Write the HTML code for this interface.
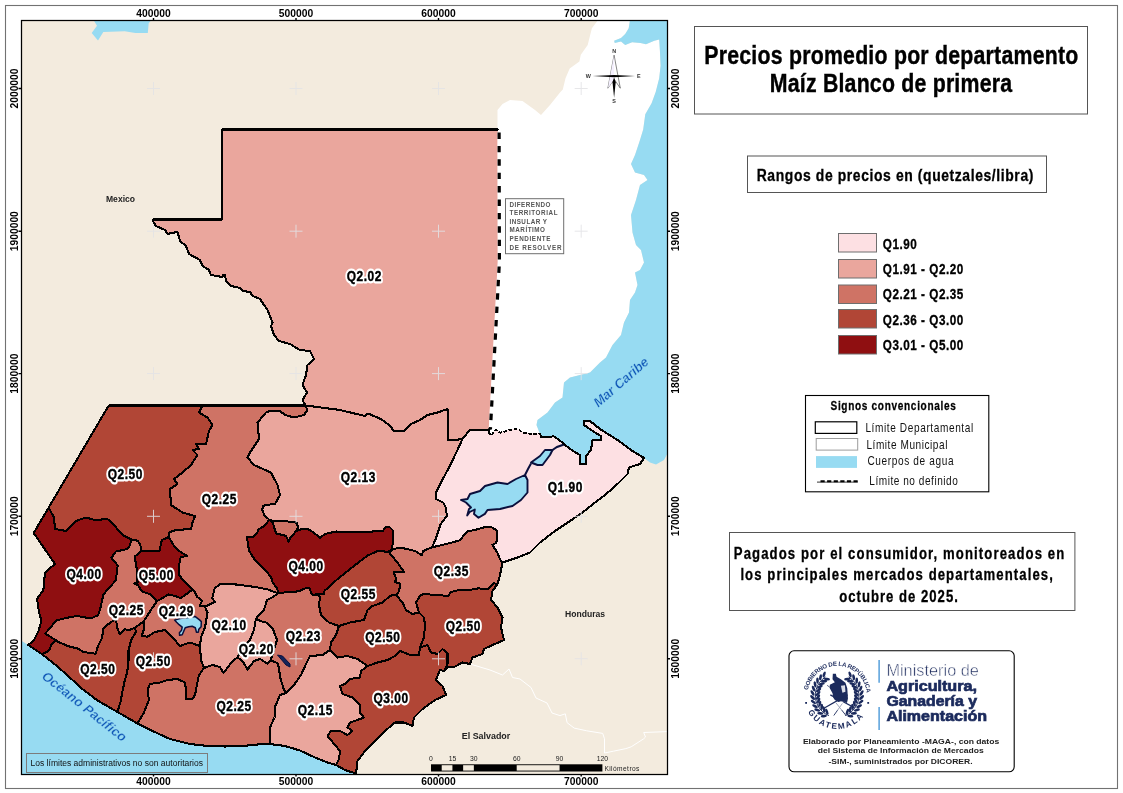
<!DOCTYPE html>
<html lang="es"><head><meta charset="utf-8"><title>Precios promedio por departamento - Maíz Blanco de primera</title>
<style>html,body{margin:0;padding:0;background:#fff}svg{display:block}text{font-family:"Liberation Sans",Arial,sans-serif}.lb{font-weight:bold;font-size:14px;fill:#000;stroke:#fff;stroke-width:3.4px;stroke-linejoin:round;paint-order:stroke fill}.ax{font-weight:bold;font-size:10.3px;fill:#000}.dep{stroke:#000;stroke-width:2.05;stroke-linejoin:round}.nb{font-weight:bold;fill:#000}</style></head><body>
<svg width="1123" height="793" viewBox="0 0 1123 793">
<rect width="1123" height="793" fill="#fff"/>
<rect x="5.5" y="5.5" width="1112" height="783" fill="none" stroke="#727272" stroke-width="1.1"/>
<defs><clipPath id="mc"><rect x="21" y="20" width="647" height="755"/></clipPath></defs>
<g clip-path="url(#mc)">
<rect x="21" y="20" width="647" height="755" fill="#f3ebde"/>
<polygon points="497.5,129.5 497.5,110 502.5,104 510,100 522.5,101 535,110 541,115 550,105 560,92.5 562.8,89.4 565.5,78.3 569.7,68.6 579.4,61.6 580.8,54.7 587.7,45 589.8,36.6 591.9,28.3 598.1,20 630,20 628.7,28.3 625.2,33.9 621,38 614.1,40.8 614.8,42.9 621,41.5 625.2,45 632.1,42.2 640.5,42.9 646,44.3 654.3,40.8 659.2,39.4 659.9,50.5 660.6,65.8 659.2,78.3 655.7,92.1 651.6,103.2 645.3,114.3 643.2,129.6 640,140 635,155 631,164 635,172.5 644,175 647.5,180 640,185 636,200 631,215 632.5,232.5 636,245 641,250 644,262.5 640,270 635,272.5 637.5,285 635,292.5 630,300 629,312.5 624,322.5 621,335 612.5,345 606,357.5 600,362.5 590,372.5 580,375 570,377.5 564,382.5 562.5,397.5 555,402.5 547.5,412.5 537.5,420 536.5,425 539.7,433.3 537.9,434 529.9,433.7 522.7,432.8 520,430.6 515.6,429.2 509.4,430.1 500.5,432.8 496,429.7 491.6,435 488.9,432.8 488.8,429.5 497.8,262" fill="#fff"/>
<polygon points="630,20 628.7,28.3 625.2,33.9 621,38 614.1,40.8 614.8,42.9 621,41.5 625.2,45 632.1,42.2 640.5,42.9 646,44.3 654.3,40.8 659.2,39.4 659.9,50.5 660.6,65.8 659.2,78.3 655.7,92.1 651.6,103.2 645.3,114.3 643.2,129.6 640,140 635,155 631,164 635,172.5 644,175 647.5,180 640,185 636,200 631,215 632.5,232.5 636,245 641,250 644,262.5 640,270 635,272.5 637.5,285 635,292.5 630,300 629,312.5 624,322.5 621,335 612.5,345 606,357.5 600,362.5 590,372.5 580,375 570,377.5 564,382.5 562.5,397.5 555,402.5 547.5,412.5 537.5,420 536.5,425 539.7,433.3 541.4,437.3 546.8,436.8 553.9,436.4 560.1,440.8 564,444 570,449 580,455 580,464 586,464 586,456 591,450 592.5,440 601,440 601,436 595,432.5 584,425 584,421 590,421 600,429 617.5,440 632.5,451 644,458 650,462.5 656,464.5 664,460 668,452.5 668,20" fill="#97dbf2"/>
<polygon points="21,640.5 28.2,644.9 42.1,654.3 56.6,665.7 69.2,677 83.1,689.6 97.5,700.5 117.5,712 137.5,723.5 152.5,731 170,739 190,744 207.5,746 225,746.5 242.5,746 257.5,744.5 270,744 285,746 300,750.5 315,757.5 327.5,762.5 336,765 345,770 356,773.5 356,775 21,775" fill="#97dbf2"/>
<polygon points="93.5,20 97,25.8 91.7,33 98,40.6 103.3,32 124.7,31.2 135.4,33 147.8,33 148.7,23.2 151.4,20" fill="#97dbf2"/>
<polyline points="470,664 490,670 502.5,675 509,669 512.5,677.5 520,679 531,687.5 536,698 547,703 552,713 560,715.6 565.3,713.8 567.1,722.7 574.2,728.1 586.7,730.8 602.7,733.4 604.5,738.8 604.5,753 613.4,751.2 625.9,748.6 631.2,746.8 643.7,738.8 645.5,737 643.7,732.5 667,731.6" fill="none" stroke="#fff" stroke-width="1"/>
<polygon points="222,129.5 497.5,129.5 497.8,262 488.8,429.5 489.5,429.5 470,430 464,437 462.5,439 455,440 448,440 447.5,409 437.5,412.5 427.5,415 420,420 411,424 405,430.5 394,431 390,426 384,421 377.5,417.5 368,413.5 365,416 340,410 305.5,405.5 302.5,400 307,392.5 302.5,385 306,375 307.5,365 314,359 310,351 300,350 290,344 279,341 274,335 271,326 272.5,322.5 267.5,310 260,299 252.5,296 250,292 242.5,291 240,288 231,286 226,281 225,275 223,274.5 222.5,277 211,275 209,270 202.5,266 200,260 189,254 186,246 180,241 177.5,232 172,233 167.5,234 165,230 156,226 153,221 153,219.5 222,219.5" fill="#eaa69d" stroke="#eaa69d" stroke-width="0.6"/>
<polygon points="108.7,405.5 202.5,405.5 199,412.5 207.5,417.5 212.5,425 209,431 206,444 196,444 199,449 192.5,450 197.5,455 191,465 182.5,472.5 174,479 177.5,484 170,489 171,505 182.5,512.5 195,516 192.5,522.5 191,529 175.7,530 168.7,532.6 168.7,537 161.8,540.1 159.3,551.5 141.6,551 140.4,545.2 137.8,540.8 131.5,539.5 122.7,535.1 113.9,525 107.5,519 95,520 86,517.5 76,521 66,531 55,529 54,517.5 48.7,507.5" fill="#b14636" stroke="#b14636" stroke-width="0.6"/>
<polygon points="202.5,405.5 305.5,405.5 307.5,410 304,415 294,417.5 285,415 280,411 270,411 266,412.5 257.5,422.5 259,439 250,452.5 247.5,457.5 254,465 271,472.5 277.5,485 280,495 275,504 270.4,504.4 263.4,505.7 262.2,509.5 264.7,515.8 269.1,519.5 265.3,525.2 258.4,529.6 257.1,533.4 252.7,537.2 247,537.2 248.9,550.4 255.2,560.5 264,568.7 271,576.9 272.9,583.2 277.3,588.3 277.9,593.3 267.8,589.5 255.2,587 236.3,584.5 219.8,584.3 214.8,588.1 212.2,598.2 214.8,601.9 207.2,605.7 204.5,606 199.6,605.7 202.2,600.7 197.1,596.9 194.6,591.8 192.8,589.3 183.2,580.5 179.5,575.4 178.8,566.6 180.7,557.2 187,555.9 180.7,552.1 174.4,546.4 168.7,537 168.7,532.6 175.7,530 191,529 192.5,522.5 195,516 182.5,512.5 171,505 170,489 177.5,484 174,479 182.5,472.5 191,465 197.5,455 192.5,450 199,449 196,444 206,444 209,431 212.5,425 207.5,417.5 199,412.5" fill="#cf7365" stroke="#cf7365" stroke-width="0.6"/>
<polygon points="305.5,405.5 340,410 365,416 368,413.5 377.5,417.5 384,421 390,426 394,431 405,430.5 411,424 420,420 427.5,415 437.5,412.5 447.5,409 448,440 455,440 462.5,439 457.5,450 449,467.5 441,482.5 436,492.5 436,499 443.2,502.5 445.8,507.6 447,516.4 444.5,518.9 440.7,524 438.2,531.5 435.7,539.1 431.9,547.3 423.1,551.1 421.8,555.5 415.5,551.1 405.4,548.6 397.8,547.9 392.2,549.8 393.4,530.9 389.6,527.1 385.9,527.1 382.7,530.9 360,532.2 336,531.5 324.6,534.1 320.2,537.8 314.5,533.4 309.5,529.6 301.9,529 296.2,530.9 290.5,537.8 288.6,541.6 286.1,535.9 276,533.4 272.9,522.7 269.1,519.5 264.7,515.8 262.2,509.5 263.4,505.7 270.4,504.4 275,504 280,495 277.5,485 271,472.5 254,465 247.5,457.5 250,452.5 259,439 257.5,422.5 266,412.5 270,411 280,411 285,415 294,417.5 304,415 307.5,410" fill="#eaa69d" stroke="#eaa69d" stroke-width="0.6"/>
<polygon points="462.5,439 464,437 470,430 489.5,429.5 488.8,429.5 488.9,432.8 491.6,435 496,429.7 500.5,432.8 509.4,430.1 515.6,429.2 520,430.6 522.7,432.8 529.9,433.7 537.9,434 539.7,433.3 541.4,437.3 546.8,436.8 553.9,436.4 560.1,440.8 564,444 570,449 580,455 580,464 586,464 586,456 591,450 592.5,440 601,440 601,436 595,432.5 584,425 584,421 590,421 600,429 617.5,440 632.5,451 644,458 640,464 629,467.5 627.5,474 617.5,484 605,495 595,502.5 582.5,512.5 570,521 555,531 540,542.5 530,552.5 517.5,557.5 502.5,562.5 500,559.3 497.5,553 492.4,544.8 496.2,542.9 497.5,537.8 496.8,530.3 491.2,527.1 484.9,527.1 476,529.6 467.2,531.5 459.6,540.4 448.3,543.5 438.2,546 431.9,547.3 435.7,539.1 438.2,531.5 440.7,524 444.5,518.9 447,516.4 445.8,507.6 443.2,502.5 436,499 436,492.5 441,482.5 449,467.5 457.5,450" fill="#fde0e3" stroke="#fde0e3" stroke-width="0.6"/>
<polygon points="48.7,507.5 33.7,533 55,564 45,572.5 43.4,590 37.1,598.8 39,612.7 41.5,620.3 38.3,631.6 33.9,640.4 28.2,644.9 42.1,654.3 49.1,650.5 51.6,644.2 56,640.4 45.3,633.5 56.6,620.3 64.2,618.4 76.8,615.9 90.7,618.4 98.2,615.2 100.8,606.4 103.3,595 107.6,589.3 115.8,580.5 117.7,565.4 111.4,557.8 115.8,551.5 127.1,549 129.6,545.8 131.5,539.5 122.7,535.1 113.9,525 107.5,519 95,520 86,517.5 76,521 66,531 55,529 54,517.5" fill="#8f0f11" stroke="#8f0f11" stroke-width="0.6"/>
<polygon points="141.6,551 159.3,551.5 161.8,540.1 168.7,537 174.4,546.4 180.7,552.1 187,555.9 180.7,557.2 178.8,566.6 179.5,575.4 183.2,580.5 192.8,589.3 187,593.7 180.7,598.2 175.7,596.3 168.7,594.4 156.8,601.3 150.4,594.4 141.6,591.2 137.8,584.9 134,583.6 137.8,582.4 136.6,579.2 136.6,567.9 134.7,556.5" fill="#8f0f11" stroke="#8f0f11" stroke-width="0.6"/>
<polygon points="131.5,539.5 137.8,540.8 140.4,545.2 141.6,551 134.7,556.5 136.6,567.9 136.6,579.2 137.8,582.4 134,583.6 137.8,584.9 141.6,591.2 150.4,594.4 156.8,601.3 150.4,610.8 143.6,621.5 134.8,627.8 128.5,630.4 124.7,629.1 119.7,634.1 117.2,627.8 115.9,619 108.3,624.1 103.3,629.1 102,637.9 98.2,645.5 95.7,653.7 90.7,653.1 83.1,651.8 78.1,648.6 68,646.1 59.1,642.3 56,640.4 45.3,633.5 56.6,620.3 64.2,618.4 76.8,615.9 90.7,618.4 98.2,615.2 100.8,606.4 103.3,595 107.6,589.3 115.8,580.5 117.7,565.4 111.4,557.8 115.8,551.5 127.1,549 129.6,545.8" fill="#cf7365" stroke="#cf7365" stroke-width="0.6"/>
<polygon points="192.8,589.3 187,593.7 180.7,598.2 175.7,596.3 168.7,594.4 156.8,601.3 150.4,610.8 143.6,621.5 144.3,627.8 141.7,636 147.4,636.7 155,632 165,630 172.5,637.5 180,646 190,642.5 200,646 201,637.5 205,627.5 207.5,612.5 204.5,606 199.6,605.7 202.2,600.7 197.1,596.9 194.6,591.8" fill="#cf7365" stroke="#cf7365" stroke-width="0.6"/>
<polygon points="269.1,519.5 272.9,522.7 276,533.4 286.1,535.9 288.6,541.6 290.5,537.8 296.2,530.9 301.9,529 309.5,529.6 314.5,533.4 320.2,537.8 324.6,534.1 336,531.5 360,532.2 382.7,530.9 385.9,527.1 389.6,527.1 393.4,530.9 392.2,549.8 388.4,551.7 377.7,551.1 367.6,555.5 356.1,564.3 338.5,578.2 324.6,590.8 324,594 317,594.5 312,594.6 309.5,588.3 305.7,588.3 298.1,591.4 286.8,592.1 277.9,593.3 277.3,588.3 272.9,583.2 271,576.9 264,568.7 255.2,560.5 248.9,550.4 247,537.2 252.7,537.2 257.1,533.4 258.4,529.6 265.3,525.2" fill="#8f0f11" stroke="#8f0f11" stroke-width="0.6"/>
<polygon points="269.1,519.5 273.5,521.4 283,520.8 296.8,522.7 298.1,527.7 296.2,530.9 290.5,537.8 288.6,541.6 286.1,535.9 276,533.4 272.9,522.7" fill="#cf7365" stroke="#cf7365" stroke-width="0.6"/>
<polygon points="392.2,549.8 388.4,551.7 377.7,551.1 367.6,555.5 356.1,564.3 338.5,578.2 324.6,590.8 324,594 317,594.5 320,597 319,605 321,615 329,622.5 339,626 350,622.5 364,620 367.5,610 372.5,606 382.5,602.5 390,596 394.1,594.6 396.6,595.5 399.1,590.8 400.4,583.9 395.3,582 395.9,578.2 393.4,571.9 404.1,571.9 397.8,563.1 389.6,553" fill="#b14636" stroke="#b14636" stroke-width="0.6"/>
<polygon points="392.2,549.8 397.8,547.9 405.4,548.6 415.5,551.1 421.8,555.5 423.1,551.1 431.9,547.3 438.2,546 448.3,543.5 459.6,540.4 467.2,531.5 476,529.6 484.9,527.1 491.2,527.1 496.8,530.3 497.5,537.8 496.2,542.9 492.4,544.8 497.5,553 500,559.3 502.5,562.5 500,575 497.5,584 493.7,583.2 487.4,589.5 478.5,588.3 468.5,590.2 460.9,589.5 450.8,592.1 448.3,595.9 430,594.5 423.1,594 420,596 416,602.5 419,612.5 412.5,614 406,610 402.5,602.5 396.6,595.5 399.1,590.8 400.4,583.9 395.3,582 395.9,578.2 393.4,571.9 404.1,571.9 397.8,563.1 389.6,553" fill="#cf7365" stroke="#cf7365" stroke-width="0.6"/>
<polygon points="497.5,584 493.7,583.2 487.4,589.5 478.5,588.3 468.5,590.2 460.9,589.5 450.8,592.1 448.3,595.9 430,594.5 423.1,594 420,596 416,602.5 419,612.5 412.5,614 419,612.5 424,617.5 425,625 424,637.5 420,647.5 427.5,645 431,652.5 437.5,654 442.5,649 447.5,653.5 447.5,664 444,671 447.5,667.5 455,666.5 462.5,662.5 470,664 472.5,657.5 482.5,654 484,649 492.5,645 504,640 501,627.5 502.5,617.5 497.5,607.5 491,600 492.5,591" fill="#b14636" stroke="#b14636" stroke-width="0.6"/>
<polygon points="396.6,595.5 394.1,594.6 390,596 382.5,602.5 372.5,606 367.5,610 364,620 350,622.5 339,626 336,635 331,642.5 330,650 337.5,657.5 347.5,656 357.5,659 367.5,666 377.5,662.5 387.5,660 395,656 400,651 410,655 419,655 420,647.5 424,637.5 425,625 424,617.5 419,612.5 412.5,614 406,610 402.5,602.5" fill="#b14636" stroke="#b14636" stroke-width="0.6"/>
<polygon points="367.5,666 377.5,662.5 387.5,660 395,656 400,651 410,655 419,655 420,647.5 427.5,645 431,652.5 437.5,654 442.5,649 447.5,653.5 447.5,664 444,671 440,670 436,680 442.5,686 446,695 435,700 422.5,709 414,717.5 412.5,726 404,722.5 395,722.5 385,731 375,741 365,751 357.5,761 356,773.5 345,770 336,765 339,759 340,751 335,745 327.5,736 331,731 340,731 347.5,735 352.5,731 347.5,727.5 350,722.5 357.5,720 364,717.5 360,712.5 360,705 352.5,697.5 342.5,694 340,686 345,684 350,679 360,677.5 361,671" fill="#b14636" stroke="#b14636" stroke-width="0.6"/>
<polygon points="277.9,593.3 286.8,592.1 298.1,591.4 305.7,588.3 309.5,588.3 312,594.6 317,594.5 320,597 319,605 321,615 329,622.5 339,626 336,635 331,642.5 330,650 322.5,655 310,656 306,664 301,675 294,685 286,693 284,690 280,677 279,668 277.5,663 270.5,660.5 274,650 277,640 272.5,628 266,622.5 260,621 256,618.5 264,610 267,600 272.9,597.1" fill="#cf7365" stroke="#cf7365" stroke-width="0.6"/>
<polygon points="204.5,606 207.2,605.7 214.8,601.9 212.2,598.2 214.8,588.1 219.8,584.3 236.3,584.5 255.2,587 267.8,589.5 277.9,593.3 272.9,597.1 267,600 264,610 256,618.5 254,630 250,640 242.5,647.5 237.5,657.5 232.5,661 223.5,673 220,667 212.5,665 204,668 201,660 200,646 201,637.5 205,627.5 207.5,612.5" fill="#eaa69d" stroke="#eaa69d" stroke-width="0.6"/>
<polygon points="256,618.5 260,621 266,622.5 272.5,628 277,640 274,650 270.5,660.5 267.5,663.5 260,659 254,661 247.5,669.5 242.5,661 237.5,657.5 242.5,647.5 250,640 254,630" fill="#eaa69d" stroke="#eaa69d" stroke-width="0.6"/>
<polygon points="204,668 212.5,665 220,667 223.5,673 232.5,661 237.5,657.5 242.5,661 247.5,669.5 254,661 260,659 267.5,663.5 270.5,660.5 277.5,663 279,668 280,677 284,690 286,693 280,695 275,707 274.5,717.5 270,727.5 270,744 257.5,744.5 242.5,746 225,746.5 207.5,746 190,744 170,739 152.5,731 137.5,723.5 144,712.5 149,700 147.5,690 150,684 160,682.5 167.5,680 177.5,679 185,682.5 186,690 186,699 192.5,699 195,695 197.5,682 199,675" fill="#cf7365" stroke="#cf7365" stroke-width="0.6"/>
<polygon points="330,650 322.5,655 310,656 306,664 301,675 294,685 286,693 280,695 275,707 274.5,717.5 270,727.5 270,744 285,746 300,750.5 315,757.5 327.5,762.5 336,765 339,759 340,751 335,745 327.5,736 331,731 340,731 347.5,735 352.5,731 347.5,727.5 350,722.5 357.5,720 364,717.5 360,712.5 360,705 352.5,697.5 342.5,694 340,686 345,684 350,679 360,677.5 361,671 367.5,666 357.5,659 347.5,656 337.5,657.5" fill="#eaa69d" stroke="#eaa69d" stroke-width="0.6"/>
<polygon points="42.1,654.3 49.1,650.5 51.6,644.2 56,640.4 59.1,642.3 68,646.1 78.1,648.6 83.1,651.8 90.7,653.1 95.7,653.7 98.2,645.5 102,637.9 103.3,629.1 108.3,624.1 115.9,619 117.2,627.8 119.7,634.1 124.7,629.1 128.5,630.4 134.8,627.8 136.1,631.6 131,640.4 128.5,650.5 128.5,660.6 127.2,672 124.7,680.8 122.8,689.6 120.5,702 117.5,712 97.5,700.5 83.1,689.6 69.2,677 56.6,665.7" fill="#b14636" stroke="#b14636" stroke-width="0.6"/>
<polygon points="134.8,627.8 143.6,621.5 144.3,627.8 141.7,636 147.4,636.7 155,632 165,630 172.5,637.5 180,646 190,642.5 200,646 201,660 204,668 199,675 197.5,682 195,695 192.5,699 186,699 186,690 185,682.5 177.5,679 167.5,680 160,682.5 150,684 147.5,690 149,700 144,712.5 137.5,723.5 117.5,712 120.5,702 122.8,689.6 124.7,680.8 127.2,672 128.5,660.6 128.5,650.5 131,640.4 136.1,631.6" fill="#b14636" stroke="#b14636" stroke-width="0.6"/>
<g class="dep" fill="none" stroke-linecap="round" shape-rendering="crispEdges">
<polyline points="222,129.5 222,219.5 153,219.5 153,221 156,226 165,230 167.5,234 172,233 177.5,232 180,241 186,246 189,254 200,260 202.5,266 209,270 211,275 222.5,277 223,274.5 225,275 226,281 231,286 240,288 242.5,291 250,292 252.5,296 260,299 267.5,310 272.5,322.5 271,326 274,335 279,341 290,344 300,350 310,351 314,359 307.5,365 306,375 302.5,385 307,392.5 302.5,400 305.5,405.5"/>
<polyline points="305.5,405.5 340,410 365,416 368,413.5 377.5,417.5 384,421 390,426 394,431 405,430.5 411,424 420,420 427.5,415 437.5,412.5 447.5,409 448,440 455,440 462.5,439"/>
<polyline points="462.5,439 464,437 470,430 489.5,429.5 488.8,429.5"/>
<polyline points="202.5,405.5 199,412.5 207.5,417.5 212.5,425 209,431 206,444 196,444 199,449 192.5,450 197.5,455 191,465 182.5,472.5 174,479 177.5,484 170,489 171,505 182.5,512.5 195,516 192.5,522.5 191,529 175.7,530 168.7,532.6 168.7,537"/>
<polyline points="48.7,507.5 54,517.5 55,529 66,531 76,521 86,517.5 95,520 107.5,519 113.9,525 122.7,535.1 131.5,539.5"/>
<polyline points="131.5,539.5 137.8,540.8 140.4,545.2 141.6,551"/>
<polyline points="141.6,551 159.3,551.5 161.8,540.1 168.7,537"/>
<polyline points="48.7,507.5 33.7,533 55,564 45,572.5 43.4,590 37.1,598.8 39,612.7 41.5,620.3 38.3,631.6 33.9,640.4 28.2,644.9"/>
<polyline points="42.1,654.3 49.1,650.5 51.6,644.2 56,640.4"/>
<polyline points="56,640.4 45.3,633.5 56.6,620.3 64.2,618.4 76.8,615.9 90.7,618.4 98.2,615.2 100.8,606.4 103.3,595 107.6,589.3 115.8,580.5 117.7,565.4 111.4,557.8 115.8,551.5 127.1,549 129.6,545.8 131.5,539.5"/>
<polyline points="141.6,551 134.7,556.5 136.6,567.9 136.6,579.2 137.8,582.4 134,583.6 137.8,584.9 141.6,591.2 150.4,594.4 156.8,601.3"/>
<polyline points="156.8,601.3 150.4,610.8 143.6,621.5"/>
<polyline points="143.6,621.5 134.8,627.8"/>
<polyline points="56,640.4 59.1,642.3 68,646.1 78.1,648.6 83.1,651.8 90.7,653.1 95.7,653.7 98.2,645.5 102,637.9 103.3,629.1 108.3,624.1 115.9,619 117.2,627.8 119.7,634.1 124.7,629.1 128.5,630.4 134.8,627.8"/>
<polyline points="168.7,537 174.4,546.4 180.7,552.1 187,555.9 180.7,557.2 178.8,566.6 179.5,575.4 183.2,580.5 192.8,589.3"/>
<polyline points="192.8,589.3 187,593.7 180.7,598.2 175.7,596.3 168.7,594.4 156.8,601.3"/>
<polyline points="192.8,589.3 194.6,591.8 197.1,596.9 202.2,600.7 199.6,605.7 204.5,606"/>
<polyline points="204.5,606 207.2,605.7 214.8,601.9 212.2,598.2 214.8,588.1 219.8,584.3 236.3,584.5 255.2,587 267.8,589.5 277.9,593.3"/>
<polyline points="277.9,593.3 277.3,588.3 272.9,583.2 271,576.9 264,568.7 255.2,560.5 248.9,550.4 247,537.2 252.7,537.2 257.1,533.4 258.4,529.6 265.3,525.2 269.1,519.5"/>
<polyline points="269.1,519.5 264.7,515.8 262.2,509.5 263.4,505.7 270.4,504.4 275,504 280,495 277.5,485 271,472.5 254,465 247.5,457.5 250,452.5 259,439 257.5,422.5 266,412.5 270,411 280,411 285,415 294,417.5 304,415 307.5,410 305.5,405.5"/>
<polyline points="269.1,519.5 272.9,522.7 276,533.4 286.1,535.9 288.6,541.6 290.5,537.8 296.2,530.9 301.9,529 309.5,529.6 314.5,533.4 320.2,537.8 324.6,534.1 336,531.5 360,532.2 382.7,530.9 385.9,527.1 389.6,527.1 393.4,530.9 392.2,549.8"/>
<polyline points="269.1,519.5 273.5,521.4 283,520.8 296.8,522.7 298.1,527.7 296.2,530.9 290.5,537.8 288.6,541.6 286.1,535.9 276,533.4 272.9,522.7"/>
<polyline points="392.2,549.8 397.8,547.9 405.4,548.6 415.5,551.1 421.8,555.5 423.1,551.1 431.9,547.3"/>
<polyline points="431.9,547.3 435.7,539.1 438.2,531.5 440.7,524 444.5,518.9 447,516.4 445.8,507.6 443.2,502.5 436,499 436,492.5 441,482.5 449,467.5 457.5,450 462.5,439"/>
<polyline points="564,444 570,449 580,455 580,464 586,464 586,456 591,450 592.5,440 601,440 601,436 595,432.5 584,425 584,421 590,421 600,429 617.5,440 632.5,451 644,458"/>
<polyline points="644,458 640,464 629,467.5 627.5,474 617.5,484 605,495 595,502.5 582.5,512.5 570,521 555,531 540,542.5 530,552.5 517.5,557.5 502.5,562.5"/>
<polyline points="431.9,547.3 438.2,546 448.3,543.5 459.6,540.4 467.2,531.5 476,529.6 484.9,527.1 491.2,527.1 496.8,530.3 497.5,537.8 496.2,542.9 492.4,544.8 497.5,553 500,559.3 502.5,562.5"/>
<polyline points="502.5,562.5 500,575 497.5,584"/>
<polyline points="497.5,584 493.7,583.2 487.4,589.5 478.5,588.3 468.5,590.2 460.9,589.5 450.8,592.1 448.3,595.9 430,594.5 423.1,594 420,596 416,602.5 419,612.5 412.5,614"/>
<polyline points="396.6,595.5 402.5,602.5 406,610 412.5,614"/>
<polyline points="392.2,549.8 389.6,553 397.8,563.1 404.1,571.9 393.4,571.9 395.9,578.2 395.3,582 400.4,583.9 399.1,590.8 396.6,595.5"/>
<polyline points="392.2,549.8 388.4,551.7 377.7,551.1 367.6,555.5 356.1,564.3 338.5,578.2 324.6,590.8 324,594 317,594.5"/>
<polyline points="277.9,593.3 286.8,592.1 298.1,591.4 305.7,588.3 309.5,588.3 312,594.6 317,594.5"/>
<polyline points="317,594.5 320,597 319,605 321,615 329,622.5 339,626"/>
<polyline points="396.6,595.5 394.1,594.6 390,596 382.5,602.5 372.5,606 367.5,610 364,620 350,622.5 339,626"/>
<polyline points="339,626 336,635 331,642.5 330,650"/>
<polyline points="330,650 337.5,657.5 347.5,656 357.5,659 367.5,666"/>
<polyline points="367.5,666 377.5,662.5 387.5,660 395,656 400,651 410,655 419,655 420,647.5"/>
<polyline points="412.5,614 419,612.5 424,617.5 425,625 424,637.5 420,647.5"/>
<polyline points="420,647.5 427.5,645 431,652.5 437.5,654 442.5,649 447.5,653.5 447.5,664 444,671"/>
<polyline points="497.5,584 492.5,591 491,600 497.5,607.5 502.5,617.5 501,627.5 504,640 492.5,645 484,649 482.5,654 472.5,657.5 470,664 462.5,662.5 455,666.5 447.5,667.5 444,671"/>
<polyline points="444,671 440,670 436,680 442.5,686 446,695 435,700 422.5,709 414,717.5 412.5,726 404,722.5 395,722.5 385,731 375,741 365,751 357.5,761 356,773.5"/>
<polyline points="367.5,666 361,671 360,677.5 350,679 345,684 340,686 342.5,694 352.5,697.5 360,705 360,712.5 364,717.5 357.5,720 350,722.5 347.5,727.5 352.5,731 347.5,735 340,731 331,731 327.5,736 335,745 340,751 339,759 336,765"/>
<polyline points="330,650 322.5,655 310,656 306,664 301,675 294,685 286,693"/>
<polyline points="286,693 280,695 275,707 274.5,717.5 270,727.5 270,744"/>
<polyline points="270.5,660.5 277.5,663 279,668 280,677 284,690 286,693"/>
<polyline points="256,618.5 260,621 266,622.5 272.5,628 277,640 274,650 270.5,660.5"/>
<polyline points="277.9,593.3 272.9,597.1 267,600 264,610 256,618.5"/>
<polyline points="256,618.5 254,630 250,640 242.5,647.5 237.5,657.5"/>
<polyline points="237.5,657.5 242.5,661 247.5,669.5 254,661 260,659 267.5,663.5 270.5,660.5"/>
<polyline points="204,668 212.5,665 220,667 223.5,673 232.5,661 237.5,657.5"/>
<polyline points="204.5,606 207.5,612.5 205,627.5 201,637.5 200,646"/>
<polyline points="200,646 201,660 204,668"/>
<polyline points="143.6,621.5 144.3,627.8 141.7,636 147.4,636.7 155,632 165,630 172.5,637.5 180,646 190,642.5 200,646"/>
<polyline points="204,668 199,675 197.5,682 195,695 192.5,699 186,699 186,690 185,682.5 177.5,679 167.5,680 160,682.5 150,684 147.5,690 149,700 144,712.5 137.5,723.5"/>
<polyline points="134.8,627.8 136.1,631.6 131,640.4 128.5,650.5 128.5,660.6 127.2,672 124.7,680.8 122.8,689.6 120.5,702 117.5,712"/>
<polyline points="28.2,644.9 42.1,654.3 56.6,665.7 69.2,677 83.1,689.6 97.5,700.5 117.5,712 137.5,723.5 152.5,731 170,739 190,744 207.5,746 225,746.5 242.5,746 257.5,744.5 270,744 285,746 300,750.5 315,757.5 327.5,762.5 336,765 345,770 356,773.5"/>
<polyline points="497.5,129.5 222,129.5"/>
<polyline points="48.7,507.5 108.7,405.5 305.5,405.5"/>
</g>
<polygon points="461,500 467.5,499 470,494 480,491 485,486 497.5,482.5 507.5,484 516,479 525,475 527.5,480 527.5,492.5 521,500 512.5,506 500,509 487.5,510 484.9,513.9 478.5,517.7 474,514 474.8,509.5 469.7,512 467.2,515.5 469,509 471,507.5 466,502.5" fill="#97dbf2" stroke="#0a0f3c" stroke-width="1.9" stroke-linejoin="round"/>
<polygon points="531,462.5 540,456 545,450 552.5,450 550,455 542.5,465 537.5,465" fill="#97dbf2" stroke="#0a0f3c" stroke-width="1.9" stroke-linejoin="round"/>
<polyline points="525,475 528,469 531,463.5" fill="none" stroke="#0a0f3c" stroke-width="2"/>
<polyline points="551,451 557,447 564,444.5" fill="none" stroke="#0a0f3c" stroke-width="2"/>
<polygon points="174.6,620.1 180,618.5 188,617.5 195.3,616.6 199.8,620.1 201.3,621.6 201.1,626.7 198.8,629.2 198.3,632.2 196.5,632.2 195.3,627.7 192.2,626.2 188.7,626.7 185.2,627.7 183.7,631.2 182.2,634.8 179.6,635.3 179.4,632.7 181.6,630.2 182.2,627.2 179.1,624.7 176.6,622.2" fill="#97dbf2" stroke="#0a0f3c" stroke-width="1.5" stroke-linejoin="round"/>
<polygon points="277.5,655 282.5,656 290,664 290,667 286,665" fill="#14245a" stroke="#0a0f3c" stroke-width="1"/>
<polyline points="499.1,132.5 499.4,262 490.4,429.5" fill="none" stroke="#fff" stroke-width="3.4"/>
<polyline points="499.1,132.5 499.4,262 490.4,429.5" fill="none" stroke="#000" stroke-width="3.2" stroke-dasharray="6.4 7"/>
<polyline points="491.6,435 496,429.7 500.5,432.8 509.4,430.1 515.6,429.2 520,430.6 522.7,432.8 529.9,433.7 537.9,434 539.7,433.3" fill="none" stroke="#000" stroke-width="1.9" stroke-dasharray="3.6 1.6" shape-rendering="crispEdges"/>
<polyline points="488.8,429.5 488.9,432.8 491.6,435" fill="none" stroke="#000" stroke-width="2" shape-rendering="crispEdges"/>
<polyline points="539.7,433.3 541.4,437.3 546.8,436.8 553.9,436.4 560.1,440.8 564,444" fill="none" stroke="#000" stroke-width="2" shape-rendering="crispEdges"/>
<g stroke="#e3e3e6" stroke-width="1" opacity="0.85">
<path d="M147.0,88.5H160.0M153.5,82.0V95.0"/>
<path d="M147.0,231.2H160.0M153.5,224.7V237.7"/>
<path d="M147.0,373.6H160.0M153.5,367.1V380.1"/>
<path d="M147.0,516.3H160.0M153.5,509.79999999999995V522.8"/>
<path d="M147.0,658.8H160.0M153.5,652.3V665.3"/>
<path d="M289.5,88.5H302.5M296,82.0V95.0"/>
<path d="M289.5,231.2H302.5M296,224.7V237.7"/>
<path d="M289.5,373.6H302.5M296,367.1V380.1"/>
<path d="M289.5,516.3H302.5M296,509.79999999999995V522.8"/>
<path d="M289.5,658.8H302.5M296,652.3V665.3"/>
<path d="M432.0,88.5H445.0M438.5,82.0V95.0"/>
<path d="M432.0,231.2H445.0M438.5,224.7V237.7"/>
<path d="M432.0,373.6H445.0M438.5,367.1V380.1"/>
<path d="M432.0,516.3H445.0M438.5,509.79999999999995V522.8"/>
<path d="M432.0,658.8H445.0M438.5,652.3V665.3"/>
<path d="M574.7,88.5H587.7M581.2,82.0V95.0"/>
<path d="M574.7,231.2H587.7M581.2,224.7V237.7"/>
<path d="M574.7,373.6H587.7M581.2,367.1V380.1"/>
<path d="M574.7,516.3H587.7M581.2,509.79999999999995V522.8"/>
<path d="M574.7,658.8H587.7M581.2,652.3V665.3"/>
</g>
<text x="120.5" y="201.5" font-size="8.2" font-weight="bold" fill="#222" text-anchor="middle" textLength="29" lengthAdjust="spacingAndGlyphs">Mexico</text>
<text x="585" y="617" font-size="8.2" font-weight="bold" fill="#222" text-anchor="middle" textLength="40" lengthAdjust="spacingAndGlyphs">Honduras</text>
<text x="486" y="739" font-size="8.2" font-weight="bold" fill="#222" text-anchor="middle" textLength="48.5" lengthAdjust="spacingAndGlyphs">El Salvador</text>
<text transform="translate(84.5,706.5) rotate(38.5)" font-size="13.2" font-weight="bold" font-style="italic" fill="#1259b8" stroke="#97dbf2" stroke-width="0.3" text-anchor="middle" y="4.5" textLength="104" lengthAdjust="spacing">Océano Pacífico</text>
<text transform="translate(621,382) rotate(-41)" font-size="13.2" font-weight="bold" font-style="italic" fill="#1259b8" stroke="#97dbf2" stroke-width="0.3" text-anchor="middle" y="4.5" textLength="68" lengthAdjust="spacing">Mar Caribe</text>
<text transform="translate(346.8,281.2) scale(0.82,1)" font-size="14.6" font-weight="bold" fill="#000" textLength="42.2" lengthAdjust="spacing" stroke="#fff" stroke-width="4.8" stroke-linejoin="round">Q2.02</text>
<text transform="translate(346.8,281.2) scale(0.82,1)" font-size="14.6" font-weight="bold" fill="#000" textLength="42.2" lengthAdjust="spacing" stroke="#000" stroke-width="0.4">Q2.02</text>
<text transform="translate(107.8,478.9) scale(0.82,1)" font-size="14.6" font-weight="bold" fill="#000" textLength="42.2" lengthAdjust="spacing" stroke="#fff" stroke-width="4.8" stroke-linejoin="round">Q2.50</text>
<text transform="translate(107.8,478.9) scale(0.82,1)" font-size="14.6" font-weight="bold" fill="#000" textLength="42.2" lengthAdjust="spacing" stroke="#000" stroke-width="0.4">Q2.50</text>
<text transform="translate(201.8,504.2) scale(0.82,1)" font-size="14.6" font-weight="bold" fill="#000" textLength="42.2" lengthAdjust="spacing" stroke="#fff" stroke-width="4.8" stroke-linejoin="round">Q2.25</text>
<text transform="translate(201.8,504.2) scale(0.82,1)" font-size="14.6" font-weight="bold" fill="#000" textLength="42.2" lengthAdjust="spacing" stroke="#000" stroke-width="0.4">Q2.25</text>
<text transform="translate(340.8,482.2) scale(0.82,1)" font-size="14.6" font-weight="bold" fill="#000" textLength="42.2" lengthAdjust="spacing" stroke="#fff" stroke-width="4.8" stroke-linejoin="round">Q2.13</text>
<text transform="translate(340.8,482.2) scale(0.82,1)" font-size="14.6" font-weight="bold" fill="#000" textLength="42.2" lengthAdjust="spacing" stroke="#000" stroke-width="0.4">Q2.13</text>
<text transform="translate(547.8,491.9) scale(0.82,1)" font-size="14.6" font-weight="bold" fill="#000" textLength="42.2" lengthAdjust="spacing" stroke="#fff" stroke-width="4.8" stroke-linejoin="round">Q1.90</text>
<text transform="translate(547.8,491.9) scale(0.82,1)" font-size="14.6" font-weight="bold" fill="#000" textLength="42.2" lengthAdjust="spacing" stroke="#000" stroke-width="0.4">Q1.90</text>
<text transform="translate(66.5,579.2) scale(0.82,1)" font-size="14.6" font-weight="bold" fill="#000" textLength="42.2" lengthAdjust="spacing" stroke="#fff" stroke-width="4.8" stroke-linejoin="round">Q4.00</text>
<text transform="translate(66.5,579.2) scale(0.82,1)" font-size="14.6" font-weight="bold" fill="#000" textLength="42.2" lengthAdjust="spacing" stroke="#000" stroke-width="0.4">Q4.00</text>
<text transform="translate(138.8,580.2) scale(0.82,1)" font-size="14.6" font-weight="bold" fill="#000" textLength="42.2" lengthAdjust="spacing" stroke="#fff" stroke-width="4.8" stroke-linejoin="round">Q5.00</text>
<text transform="translate(138.8,580.2) scale(0.82,1)" font-size="14.6" font-weight="bold" fill="#000" textLength="42.2" lengthAdjust="spacing" stroke="#000" stroke-width="0.4">Q5.00</text>
<text transform="translate(108.8,615.2) scale(0.82,1)" font-size="14.6" font-weight="bold" fill="#000" textLength="42.2" lengthAdjust="spacing" stroke="#fff" stroke-width="4.8" stroke-linejoin="round">Q2.25</text>
<text transform="translate(108.8,615.2) scale(0.82,1)" font-size="14.6" font-weight="bold" fill="#000" textLength="42.2" lengthAdjust="spacing" stroke="#000" stroke-width="0.4">Q2.25</text>
<text transform="translate(158.8,615.7) scale(0.82,1)" font-size="14.6" font-weight="bold" fill="#000" textLength="42.2" lengthAdjust="spacing" stroke="#fff" stroke-width="4.8" stroke-linejoin="round">Q2.29</text>
<text transform="translate(158.8,615.7) scale(0.82,1)" font-size="14.6" font-weight="bold" fill="#000" textLength="42.2" lengthAdjust="spacing" stroke="#000" stroke-width="0.4">Q2.29</text>
<text transform="translate(288.5,571.2) scale(0.82,1)" font-size="14.6" font-weight="bold" fill="#000" textLength="42.2" lengthAdjust="spacing" stroke="#fff" stroke-width="4.8" stroke-linejoin="round">Q4.00</text>
<text transform="translate(288.5,571.2) scale(0.82,1)" font-size="14.6" font-weight="bold" fill="#000" textLength="42.2" lengthAdjust="spacing" stroke="#000" stroke-width="0.4">Q4.00</text>
<text transform="translate(340.8,598.9) scale(0.82,1)" font-size="14.6" font-weight="bold" fill="#000" textLength="42.2" lengthAdjust="spacing" stroke="#fff" stroke-width="4.8" stroke-linejoin="round">Q2.55</text>
<text transform="translate(340.8,598.9) scale(0.82,1)" font-size="14.6" font-weight="bold" fill="#000" textLength="42.2" lengthAdjust="spacing" stroke="#000" stroke-width="0.4">Q2.55</text>
<text transform="translate(433.8,575.9) scale(0.82,1)" font-size="14.6" font-weight="bold" fill="#000" textLength="42.2" lengthAdjust="spacing" stroke="#fff" stroke-width="4.8" stroke-linejoin="round">Q2.35</text>
<text transform="translate(433.8,575.9) scale(0.82,1)" font-size="14.6" font-weight="bold" fill="#000" textLength="42.2" lengthAdjust="spacing" stroke="#000" stroke-width="0.4">Q2.35</text>
<text transform="translate(445.8,630.9) scale(0.82,1)" font-size="14.6" font-weight="bold" fill="#000" textLength="42.2" lengthAdjust="spacing" stroke="#fff" stroke-width="4.8" stroke-linejoin="round">Q2.50</text>
<text transform="translate(445.8,630.9) scale(0.82,1)" font-size="14.6" font-weight="bold" fill="#000" textLength="42.2" lengthAdjust="spacing" stroke="#000" stroke-width="0.4">Q2.50</text>
<text transform="translate(365.3,641.9) scale(0.82,1)" font-size="14.6" font-weight="bold" fill="#000" textLength="42.2" lengthAdjust="spacing" stroke="#fff" stroke-width="4.8" stroke-linejoin="round">Q2.50</text>
<text transform="translate(365.3,641.9) scale(0.82,1)" font-size="14.6" font-weight="bold" fill="#000" textLength="42.2" lengthAdjust="spacing" stroke="#000" stroke-width="0.4">Q2.50</text>
<text transform="translate(285.8,640.9) scale(0.82,1)" font-size="14.6" font-weight="bold" fill="#000" textLength="42.2" lengthAdjust="spacing" stroke="#fff" stroke-width="4.8" stroke-linejoin="round">Q2.23</text>
<text transform="translate(285.8,640.9) scale(0.82,1)" font-size="14.6" font-weight="bold" fill="#000" textLength="42.2" lengthAdjust="spacing" stroke="#000" stroke-width="0.4">Q2.23</text>
<text transform="translate(211.5,630.2) scale(0.82,1)" font-size="14.6" font-weight="bold" fill="#000" textLength="42.2" lengthAdjust="spacing" stroke="#fff" stroke-width="4.8" stroke-linejoin="round">Q2.10</text>
<text transform="translate(211.5,630.2) scale(0.82,1)" font-size="14.6" font-weight="bold" fill="#000" textLength="42.2" lengthAdjust="spacing" stroke="#000" stroke-width="0.4">Q2.10</text>
<text transform="translate(238.8,653.9) scale(0.82,1)" font-size="14.6" font-weight="bold" fill="#000" textLength="42.2" lengthAdjust="spacing" stroke="#fff" stroke-width="4.8" stroke-linejoin="round">Q2.20</text>
<text transform="translate(238.8,653.9) scale(0.82,1)" font-size="14.6" font-weight="bold" fill="#000" textLength="42.2" lengthAdjust="spacing" stroke="#000" stroke-width="0.4">Q2.20</text>
<text transform="translate(80.3,673.9) scale(0.82,1)" font-size="14.6" font-weight="bold" fill="#000" textLength="42.2" lengthAdjust="spacing" stroke="#fff" stroke-width="4.8" stroke-linejoin="round">Q2.50</text>
<text transform="translate(80.3,673.9) scale(0.82,1)" font-size="14.6" font-weight="bold" fill="#000" textLength="42.2" lengthAdjust="spacing" stroke="#000" stroke-width="0.4">Q2.50</text>
<text transform="translate(135.8,665.9) scale(0.82,1)" font-size="14.6" font-weight="bold" fill="#000" textLength="42.2" lengthAdjust="spacing" stroke="#fff" stroke-width="4.8" stroke-linejoin="round">Q2.50</text>
<text transform="translate(135.8,665.9) scale(0.82,1)" font-size="14.6" font-weight="bold" fill="#000" textLength="42.2" lengthAdjust="spacing" stroke="#000" stroke-width="0.4">Q2.50</text>
<text transform="translate(216.5,711.2) scale(0.82,1)" font-size="14.6" font-weight="bold" fill="#000" textLength="42.2" lengthAdjust="spacing" stroke="#fff" stroke-width="4.8" stroke-linejoin="round">Q2.25</text>
<text transform="translate(216.5,711.2) scale(0.82,1)" font-size="14.6" font-weight="bold" fill="#000" textLength="42.2" lengthAdjust="spacing" stroke="#000" stroke-width="0.4">Q2.25</text>
<text transform="translate(297.8,715.2) scale(0.82,1)" font-size="14.6" font-weight="bold" fill="#000" textLength="42.2" lengthAdjust="spacing" stroke="#fff" stroke-width="4.8" stroke-linejoin="round">Q2.15</text>
<text transform="translate(297.8,715.2) scale(0.82,1)" font-size="14.6" font-weight="bold" fill="#000" textLength="42.2" lengthAdjust="spacing" stroke="#000" stroke-width="0.4">Q2.15</text>
<text transform="translate(373.5,702.7) scale(0.82,1)" font-size="14.6" font-weight="bold" fill="#000" textLength="42.2" lengthAdjust="spacing" stroke="#fff" stroke-width="4.8" stroke-linejoin="round">Q3.00</text>
<text transform="translate(373.5,702.7) scale(0.82,1)" font-size="14.6" font-weight="bold" fill="#000" textLength="42.2" lengthAdjust="spacing" stroke="#000" stroke-width="0.4">Q3.00</text>
<rect x="505.5" y="198.7" width="58.2" height="55" fill="#fff" stroke="#6e6e6e" stroke-width="1"/>
<text x="509.5" y="206.80" font-size="6.3" font-weight="bold" fill="#555" textLength="41" lengthAdjust="spacing">DIFERENDO</text>
<text x="509.5" y="215.35" font-size="6.3" font-weight="bold" fill="#555" textLength="48" lengthAdjust="spacing">TERRITORIAL</text>
<text x="509.5" y="223.90" font-size="6.3" font-weight="bold" fill="#555" textLength="37.5" lengthAdjust="spacing">INSULAR Y</text>
<text x="509.5" y="232.45" font-size="6.3" font-weight="bold" fill="#555" textLength="35.5" lengthAdjust="spacing">MARÍTIMO</text>
<text x="509.5" y="241.00" font-size="6.3" font-weight="bold" fill="#555" textLength="41" lengthAdjust="spacing">PENDIENTE</text>
<text x="509.5" y="249.55" font-size="6.3" font-weight="bold" fill="#555" textLength="52" lengthAdjust="spacing">DE RESOLVER</text>
<g><path d="M614.1,55.2L620.3000000000001,88.2L614.1,79.2L607.9,88.2Z" fill="#fff" stroke="#333" stroke-width="0.6"/>
<path d="M614.1,55.2L614.1,79.2L607.9,88.2Z" fill="#f5f0ff" stroke="none"/>
<path d="M592.6,75.9L614.1,75.05L635.1,75.9L614.1,77.35000000000001Z" fill="#000"/>
<path d="M614.1,77.2L615.7,82.2L614.1,97.7L612.5,82.2Z" fill="#000"/>
<text x="614.1" y="52.9" font-size="5.4" font-weight="bold" fill="#333" text-anchor="middle">N</text>
<text x="614.1" y="103.2" font-size="5.4" font-weight="bold" fill="#333" text-anchor="middle">S</text>
<text x="588.4" y="78.2" font-size="5.4" font-weight="bold" fill="#333" text-anchor="middle">W</text>
<text x="638.8" y="78.2" font-size="5.4" font-weight="bold" fill="#333" text-anchor="middle">E</text>
</g>
<rect x="431" y="764.3" width="171.396" height="7.2" fill="#000"/>
<rect x="441.712" y="765.2" width="10.7123" height="5.4" fill="#f3ebde"/>
<rect x="463.137" y="765.2" width="10.7122" height="5.4" fill="#f3ebde"/>
<rect x="516.698" y="765.2" width="42.849" height="5.4" fill="#f3ebde"/>
<text x="431" y="760.7" font-size="6.8" fill="#222" text-anchor="middle">0</text>
<text x="452.425" y="760.7" font-size="6.8" fill="#222" text-anchor="middle">15</text>
<text x="473.849" y="760.7" font-size="6.8" fill="#222" text-anchor="middle">30</text>
<text x="516.698" y="760.7" font-size="6.8" fill="#222" text-anchor="middle">60</text>
<text x="559.547" y="760.7" font-size="6.8" fill="#222" text-anchor="middle">90</text>
<text x="602.396" y="760.7" font-size="6.8" fill="#222" text-anchor="middle">120</text>
<text x="604.396" y="771.3" font-size="6.6" fill="#222" textLength="35" lengthAdjust="spacing">Kilómetros</text>
<rect x="26.5" y="753.5" width="181" height="19" fill="none" stroke="#7c7c7c" stroke-width="1"/>
<text x="30.5" y="765.8" font-size="8.5" fill="#111" textLength="172.5" lengthAdjust="spacingAndGlyphs">Los límites administrativos no son autoritarios</text>
</g>
<rect x="21.5" y="20.5" width="646" height="754" fill="none" stroke="#000" stroke-width="1.25"/>
<path d="M153.5,18V20.5M153.5,774V776.5" stroke="#000" stroke-width="1.4"/>
<text class="ax" x="153.5" y="16.8" text-anchor="middle">400000</text>
<text class="ax" x="153.5" y="785.4" text-anchor="middle">400000</text>
<path d="M296,18V20.5M296,774V776.5" stroke="#000" stroke-width="1.4"/>
<text class="ax" x="296" y="16.8" text-anchor="middle">500000</text>
<text class="ax" x="296" y="785.4" text-anchor="middle">500000</text>
<path d="M438.5,18V20.5M438.5,774V776.5" stroke="#000" stroke-width="1.4"/>
<text class="ax" x="438.5" y="16.8" text-anchor="middle">600000</text>
<text class="ax" x="438.5" y="785.4" text-anchor="middle">600000</text>
<path d="M581.2,18V20.5M581.2,774V776.5" stroke="#000" stroke-width="1.4"/>
<text class="ax" x="581.2" y="16.8" text-anchor="middle">700000</text>
<text class="ax" x="581.2" y="785.4" text-anchor="middle">700000</text>
<path d="M18.5,88.5H21M667.5,88.5H670" stroke="#000" stroke-width="1.4"/>
<text class="ax" transform="translate(17.6,88.5) rotate(-90)" text-anchor="middle">2000000</text>
<text class="ax" transform="translate(678.6,88.5) rotate(-90)" text-anchor="middle">2000000</text>
<path d="M18.5,231.2H21M667.5,231.2H670" stroke="#000" stroke-width="1.4"/>
<text class="ax" transform="translate(17.6,231.2) rotate(-90)" text-anchor="middle">1900000</text>
<text class="ax" transform="translate(678.6,231.2) rotate(-90)" text-anchor="middle">1900000</text>
<path d="M18.5,373.6H21M667.5,373.6H670" stroke="#000" stroke-width="1.4"/>
<text class="ax" transform="translate(17.6,373.6) rotate(-90)" text-anchor="middle">1800000</text>
<text class="ax" transform="translate(678.6,373.6) rotate(-90)" text-anchor="middle">1800000</text>
<path d="M18.5,516.3H21M667.5,516.3H670" stroke="#000" stroke-width="1.4"/>
<text class="ax" transform="translate(17.6,516.3) rotate(-90)" text-anchor="middle">1700000</text>
<text class="ax" transform="translate(678.6,516.3) rotate(-90)" text-anchor="middle">1700000</text>
<path d="M18.5,658.8H21M667.5,658.8H670" stroke="#000" stroke-width="1.4"/>
<text class="ax" transform="translate(17.6,658.8) rotate(-90)" text-anchor="middle">1600000</text>
<text class="ax" transform="translate(678.6,658.8) rotate(-90)" text-anchor="middle">1600000</text>
<rect x="694.5" y="26.5" width="393" height="87.5" fill="#fff" stroke="#555" stroke-width="1"/>
<text transform="translate(704.3,64.2) scale(0.82,1)" font-size="26" font-weight="bold" fill="#000" textLength="456.1" lengthAdjust="spacing" stroke="#000" stroke-width="0.4">Precios promedio por departamento</text>
<text transform="translate(769.8,92.3) scale(0.82,1)" font-size="26" font-weight="bold" fill="#000" textLength="295.4" lengthAdjust="spacing" stroke="#000" stroke-width="0.4">Maíz Blanco de primera</text>
<rect x="747.5" y="156" width="299" height="36.5" fill="#fff" stroke="#555" stroke-width="1"/>
<text transform="translate(756.7,180.5) scale(0.82,1)" font-size="17" font-weight="bold" fill="#000" textLength="337.4" lengthAdjust="spacing" stroke="#000" stroke-width="0.3">Rangos de precios en (quetzales/libra)</text>
<rect x="838.5" y="233.5" width="38" height="18.5" fill="#fde0e3" stroke="#6e6e6e" stroke-width="1"/>
<text transform="translate(882.8,248.7) scale(0.82,1)" font-size="14.3" font-weight="bold" fill="#000" textLength="41.3" lengthAdjust="spacing" stroke="#000" stroke-width="0.3">Q1.90</text>
<rect x="838.5" y="259.5" width="38" height="18.5" fill="#eaa69d" stroke="#6e6e6e" stroke-width="1"/>
<text transform="translate(882.8,274) scale(0.82,1)" font-size="14.3" font-weight="bold" fill="#000" textLength="98.2" lengthAdjust="spacing" stroke="#000" stroke-width="0.3">Q1.91 - Q2.20</text>
<rect x="838.5" y="285" width="38" height="18.5" fill="#cf7365" stroke="#6e6e6e" stroke-width="1"/>
<text transform="translate(882.8,299.2) scale(0.82,1)" font-size="14.3" font-weight="bold" fill="#000" textLength="98.2" lengthAdjust="spacing" stroke="#000" stroke-width="0.3">Q2.21 - Q2.35</text>
<rect x="838.5" y="309.5" width="38" height="18.5" fill="#b14636" stroke="#6e6e6e" stroke-width="1"/>
<text transform="translate(882.8,324.7) scale(0.82,1)" font-size="14.3" font-weight="bold" fill="#000" textLength="98.2" lengthAdjust="spacing" stroke="#000" stroke-width="0.3">Q2.36 - Q3.00</text>
<rect x="838.5" y="335.5" width="38" height="18.5" fill="#8f0f11" stroke="#6e6e6e" stroke-width="1"/>
<text transform="translate(882.8,349.7) scale(0.82,1)" font-size="14.3" font-weight="bold" fill="#000" textLength="98.2" lengthAdjust="spacing" stroke="#000" stroke-width="0.3">Q3.01 - Q5.00</text>
<rect x="805.5" y="395.5" width="183.3" height="96.3" fill="#fff" stroke="#000" stroke-width="1.1"/>
<text transform="translate(830.5,409.9) scale(0.82,1)" font-size="12.3" font-weight="bold" fill="#000" textLength="152.9" lengthAdjust="spacing" stroke="#000" stroke-width="0.25">Signos convencionales</text>
<rect x="815.3" y="421.8" width="41.5" height="11.6" fill="#fff" stroke="#000" stroke-width="1.2"/>
<text transform="translate(865.4,432) scale(0.82,1)" font-size="12.3" fill="#111" textLength="131.5" lengthAdjust="spacing">Límite Departamental</text>
<rect x="816.2" y="438.5" width="41.5" height="11.6" fill="#fff" stroke="#9c9c9c" stroke-width="1"/>
<text transform="translate(866.4,449) scale(0.82,1)" font-size="12.3" fill="#111" textLength="98.8" lengthAdjust="spacing">Límite Municipal</text>
<rect x="816" y="456.1" width="41" height="11.8" fill="#97dbf2"/>
<text transform="translate(867.4,464.7) scale(0.82,1)" font-size="12.3" fill="#111" textLength="105.1" lengthAdjust="spacing">Cuerpos de agua</text>
<path d="M817,482.1H857.8" stroke="#000" stroke-width="0.8"/><path d="M820.5,481.3H857.8" stroke="#000" stroke-width="2" stroke-dasharray="4.2 2.4"/>
<text transform="translate(869.3,484.5) scale(0.82,1)" font-size="12.3" fill="#111" textLength="108.0" lengthAdjust="spacing">Límite no definido</text>
<rect x="729.5" y="532.5" width="345.4" height="78" fill="#fff" stroke="#555" stroke-width="1"/>
<text transform="translate(733.8,558.9) scale(0.82,1)" font-size="16" font-weight="bold" fill="#000" textLength="403.0" lengthAdjust="spacing" stroke="#000" stroke-width="0.3">Pagados por el consumidor, monitoreados en</text>
<text transform="translate(740.4,580.3) scale(0.82,1)" font-size="16" font-weight="bold" fill="#000" textLength="381.0" lengthAdjust="spacing" stroke="#000" stroke-width="0.3">los principales mercados departamentales,</text>
<text transform="translate(839.3,601.7) scale(0.82,1)" font-size="16" font-weight="bold" fill="#000" textLength="144.6" lengthAdjust="spacing" stroke="#000" stroke-width="0.3">octubre de 2025.</text>
<rect x="789" y="650.8" width="225.2" height="121" rx="5" ry="5" fill="#fff" stroke="#000" stroke-width="1.1"/>
<g fill="#1b2a5c">
<defs><path id="arcT" d="M807.52,694.37A29.6,29.6 0 0 1 866.68,694.37"/><path id="arcB" d="M805.53,706.89A33.6,33.6 0 0 0 868.67,706.89"/></defs>
<text font-size="6.1" font-weight="bold" fill="#1b2a5c" textLength="85" lengthAdjust="spacing"><textPath href="#arcT" startOffset="4.5%">GOBIERNO DE LA REPÚBLICA</textPath></text>
<text font-size="8.2" font-weight="bold" fill="#1b2a5c" textLength="65" lengthAdjust="spacing"><textPath href="#arcB" startOffset="6.9%">GUATEMALA</textPath></text>
<rect x="805.2" y="702" width="1.8" height="1.8"/><rect x="867.3" y="702" width="1.8" height="1.8"/>
<polyline points="828.934,715.613 825.387,713.786 822.232,711.344 819.576,708.367 817.506,704.956 816.093,701.226 815.383,697.3 815.4,693.311 816.144,689.391 817.59,685.673 819.69,682.28 822.372,679.327 825.548,676.913" fill="none" stroke="#1b2a5c" stroke-width="1"/>
<ellipse cx="823.9" cy="716.1" rx="3.1" ry="1.35" transform="rotate(-186 823.9 716.1)"/>
<ellipse cx="826.8" cy="711.6" rx="3.1" ry="1.35" transform="rotate(-110 826.8 711.6)"/>
<ellipse cx="820.3" cy="713.4" rx="3.1" ry="1.35" transform="rotate(-175 820.3 713.4)"/>
<ellipse cx="824.0" cy="709.4" rx="3.1" ry="1.35" transform="rotate(-99 824.0 709.4)"/>
<ellipse cx="817.3" cy="710.0" rx="3.1" ry="1.35" transform="rotate(-164 817.3 710.0)"/>
<ellipse cx="821.7" cy="706.8" rx="3.1" ry="1.35" transform="rotate(-88 821.7 706.8)"/>
<ellipse cx="815.0" cy="706.2" rx="3.1" ry="1.35" transform="rotate(-154 815.0 706.2)"/>
<ellipse cx="819.8" cy="703.8" rx="3.1" ry="1.35" transform="rotate(-78 819.8 703.8)"/>
<ellipse cx="813.4" cy="702.0" rx="3.1" ry="1.35" transform="rotate(-144 813.4 702.0)"/>
<ellipse cx="818.6" cy="700.5" rx="3.1" ry="1.35" transform="rotate(-68 818.6 700.5)"/>
<ellipse cx="812.6" cy="697.5" rx="3.1" ry="1.35" transform="rotate(-133 812.6 697.5)"/>
<ellipse cx="818.0" cy="697.1" rx="3.1" ry="1.35" transform="rotate(-57 818.0 697.1)"/>
<ellipse cx="812.6" cy="693.0" rx="3.1" ry="1.35" transform="rotate(-122 812.6 693.0)"/>
<ellipse cx="818.0" cy="693.6" rx="3.1" ry="1.35" transform="rotate(-46 818.0 693.6)"/>
<ellipse cx="813.5" cy="688.6" rx="3.1" ry="1.35" transform="rotate(-112 813.5 688.6)"/>
<ellipse cx="818.6" cy="690.1" rx="3.1" ry="1.35" transform="rotate(-36 818.6 690.1)"/>
<ellipse cx="815.1" cy="684.4" rx="3.1" ry="1.35" transform="rotate(-102 815.1 684.4)"/>
<ellipse cx="819.9" cy="686.8" rx="3.1" ry="1.35" transform="rotate(-26 819.9 686.8)"/>
<ellipse cx="817.5" cy="680.6" rx="3.1" ry="1.35" transform="rotate(-91 817.5 680.6)"/>
<ellipse cx="821.8" cy="683.8" rx="3.1" ry="1.35" transform="rotate(-15 821.8 683.8)"/>
<ellipse cx="820.5" cy="677.3" rx="3.1" ry="1.35" transform="rotate(-80 820.5 677.3)"/>
<ellipse cx="824.1" cy="681.2" rx="3.1" ry="1.35" transform="rotate(-4 824.1 681.2)"/>
<ellipse cx="824.1" cy="674.5" rx="3.1" ry="1.35" transform="rotate(-70 824.1 674.5)"/>
<ellipse cx="826.9" cy="679.1" rx="3.1" ry="1.35" transform="rotate(6 826.9 679.1)"/>
<polyline points="845.266,715.613 848.813,713.786 851.968,711.344 854.624,708.367 856.694,704.956 858.107,701.226 858.817,697.3 858.8,693.311 858.056,689.391 856.61,685.673 854.51,682.28 851.828,679.327 848.652,676.913" fill="none" stroke="#1b2a5c" stroke-width="1"/>
<ellipse cx="850.3" cy="716.1" rx="3.1" ry="1.35" transform="rotate(6 850.3 716.1)"/>
<ellipse cx="847.4" cy="711.6" rx="3.1" ry="1.35" transform="rotate(-70 847.4 711.6)"/>
<ellipse cx="853.9" cy="713.4" rx="3.1" ry="1.35" transform="rotate(-5 853.9 713.4)"/>
<ellipse cx="850.2" cy="709.4" rx="3.1" ry="1.35" transform="rotate(-81 850.2 709.4)"/>
<ellipse cx="856.9" cy="710.0" rx="3.1" ry="1.35" transform="rotate(-16 856.9 710.0)"/>
<ellipse cx="852.5" cy="706.8" rx="3.1" ry="1.35" transform="rotate(-92 852.5 706.8)"/>
<ellipse cx="859.2" cy="706.2" rx="3.1" ry="1.35" transform="rotate(-26 859.2 706.2)"/>
<ellipse cx="854.4" cy="703.8" rx="3.1" ry="1.35" transform="rotate(-102 854.4 703.8)"/>
<ellipse cx="860.8" cy="702.0" rx="3.1" ry="1.35" transform="rotate(-36 860.8 702.0)"/>
<ellipse cx="855.6" cy="700.5" rx="3.1" ry="1.35" transform="rotate(-112 855.6 700.5)"/>
<ellipse cx="861.6" cy="697.5" rx="3.1" ry="1.35" transform="rotate(-47 861.6 697.5)"/>
<ellipse cx="856.2" cy="697.1" rx="3.1" ry="1.35" transform="rotate(-123 856.2 697.1)"/>
<ellipse cx="861.6" cy="693.0" rx="3.1" ry="1.35" transform="rotate(-58 861.6 693.0)"/>
<ellipse cx="856.2" cy="693.6" rx="3.1" ry="1.35" transform="rotate(-134 856.2 693.6)"/>
<ellipse cx="860.7" cy="688.6" rx="3.1" ry="1.35" transform="rotate(-68 860.7 688.6)"/>
<ellipse cx="855.6" cy="690.1" rx="3.1" ry="1.35" transform="rotate(-144 855.6 690.1)"/>
<ellipse cx="859.1" cy="684.4" rx="3.1" ry="1.35" transform="rotate(-78 859.1 684.4)"/>
<ellipse cx="854.3" cy="686.8" rx="3.1" ry="1.35" transform="rotate(-154 854.3 686.8)"/>
<ellipse cx="856.7" cy="680.6" rx="3.1" ry="1.35" transform="rotate(-89 856.7 680.6)"/>
<ellipse cx="852.4" cy="683.8" rx="3.1" ry="1.35" transform="rotate(-165 852.4 683.8)"/>
<ellipse cx="853.7" cy="677.3" rx="3.1" ry="1.35" transform="rotate(-100 853.7 677.3)"/>
<ellipse cx="850.1" cy="681.2" rx="3.1" ry="1.35" transform="rotate(-176 850.1 681.2)"/>
<ellipse cx="850.1" cy="674.5" rx="3.1" ry="1.35" transform="rotate(-110 850.1 674.5)"/>
<ellipse cx="847.3" cy="679.1" rx="3.1" ry="1.35" transform="rotate(-186 847.3 679.1)"/>
<polygon points="832.837,673.666 835.864,673.666 836.57,676.693 840.909,679.216 845.449,682.747 847.265,688.296 847.971,698.386 846.962,702.927 842.422,700.909 838.386,701.918 834.855,699.9 833.139,697.377 832.534,693.341 829.81,688.296 829.81,684.765 834.855,682.242 832.534,679.216"/>
<path d="M824.8,707.7L847.5,694.9" stroke="#1b2a5c" stroke-width="1.3" fill="none"/>
<path d="M854.5,707.7L830.3,694.9" stroke="#1b2a5c" stroke-width="1.3" fill="none"/>
<path d="M833.8,715.5L842.4,703.4" stroke="#1b2a5c" stroke-width="0.9" fill="none"/>
<path d="M846.0,715.5L836.4,703.4" stroke="#1b2a5c" stroke-width="0.9" fill="none"/>
<path d="M827.1,685.3L831.3,688.3" stroke="#1b2a5c" stroke-width="0.7" fill="none"/>
<polygon points="840.909,685.774 844.945,685.269 845.449,691.828 842.422,692.837" fill="#fff" opacity="0.85"/>
<polygon points="837.377,702.422 842.422,700.909 845.449,707.467 839.395,711.503 833.341,707.467" fill="#fff" opacity="0.55"/>
</g>
<path d="M879.1,660V682.8M879.1,707V730" stroke="#3f92d6" stroke-width="1.3"/>
<text x="886.4" y="675.6" font-size="17" fill="#1b2a5c" textLength="92.5" lengthAdjust="spacingAndGlyphs" stroke="#fff" stroke-width="0.55">Ministerio de</text>
<text x="886.4" y="691.2" font-size="14.8" font-weight="bold" fill="#1b2a5c" stroke="#1b2a5c" stroke-width="0.7" textLength="90.6" lengthAdjust="spacingAndGlyphs">Agricultura,</text>
<text x="886.4" y="706.3" font-size="14.8" font-weight="bold" fill="#1b2a5c" stroke="#1b2a5c" stroke-width="0.7" textLength="90.6" lengthAdjust="spacingAndGlyphs">Ganadería y</text>
<text x="886.4" y="721.3" font-size="14.8" font-weight="bold" fill="#1b2a5c" stroke="#1b2a5c" stroke-width="0.7" textLength="100.6" lengthAdjust="spacingAndGlyphs">Alimentación</text>
<text x="802.9" y="743.5" font-size="7" font-weight="bold" fill="#222" textLength="196.4" lengthAdjust="spacingAndGlyphs">Elaborado por Planeamiento -MAGA-, con datos</text>
<text x="817.8" y="753.1" font-size="7" font-weight="bold" fill="#222" textLength="165.9" lengthAdjust="spacingAndGlyphs">del Sistema de Información de Mercados</text>
<text x="828.5" y="763.6" font-size="7" font-weight="bold" fill="#222" textLength="144" lengthAdjust="spacingAndGlyphs">-SIM-, suministrados por DICORER.</text>
</svg></body></html>
